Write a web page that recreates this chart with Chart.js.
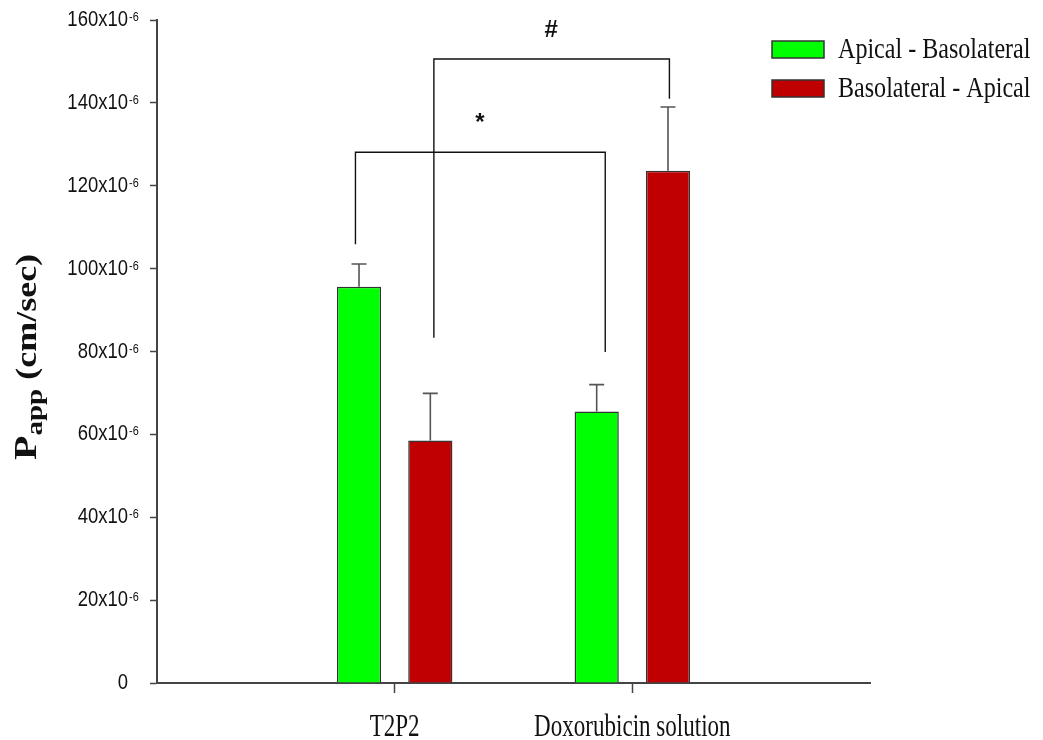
<!DOCTYPE html>
<html>
<head>
<meta charset="utf-8">
<script src="https://cdn.jsdelivr.net/npm/chart.js@4/dist/chart.umd.min.js"></script>
<style>
html, body { margin: 0; padding: 0; background: #fff; }
#wrap { width: 1043px; height: 740px; }
</style>
</head>
<body>
<div id="wrap"><canvas id="papp-bar"></canvas></div>
<script>
// values are in units of 10^-6 cm/sec; empty groups pad the axis on both sides
const groups = ['', 'T2P2', 'Doxorubicin solution', ''];
const seriesNames = ['Apical - Basolateral', 'Basolateral - Apical'];
const apicalToBaso = [null, 95.6, 65.5, null];
const basoToApical = [null, 58.5, 123.6, null];
const apicalToBasoErr = [null, 5.5, 6.5, null];
const basoToApicalErr = [null, 11.4, 15.4, null];
const yTicks = [0, 20, 40, 60, 80, 100, 120, 140, 160];

// significance brackets, in axis units (x = group index, y = value)
const sigBrackets = [
	{ mark: '*', left: 0.835, right: 1.886, top: 128.1, leftEnd: 105.9, rightEnd: 79.9, tx: 1.359, ty: 135.0 },
	{ mark: '#', left: 1.165, right: 2.156, top: 150.6, leftEnd: 83.3, rightEnd: 141.0, tx: 1.658, ty: 157.6 }
];

const GREEN = '#00ff00';
const RED = '#c00000';
const INK = '#111';

// draws text squeezed horizontally, like the original figure
function squeezedText(ctx, text, x, y, sx, align) {
	ctx.save();
	ctx.translate(x, y);
	ctx.scale(sx, 1);
	ctx.textAlign = align || 'left';
	ctx.fillText(text, 0, 0);
	ctx.restore();
}

const extrasPlugin = {
	id: 'extras',
	afterDatasetsDraw(chart) {
		const ctx = chart.ctx;
		const xs = chart.scales.x;
		const ys = chart.scales.y;
		const errs = [apicalToBasoErr, basoToApicalErr];

		// error bars (upper only)
		ctx.save();
		ctx.strokeStyle = '#555';
		ctx.lineWidth = 1.6;
		chart.data.datasets.forEach((ds, di) => {
			const meta = chart.getDatasetMeta(di);
			meta.data.forEach((bar, i) => {
				if (ds.data[i] == null) return;
				const top = ys.getPixelForValue(ds.data[i] + errs[di][i]);
				ctx.beginPath();
				ctx.moveTo(bar.x, bar.y);
				ctx.lineTo(bar.x, top);
				ctx.moveTo(bar.x - 7.5, top);
				ctx.lineTo(bar.x + 7.5, top);
				ctx.stroke();
			});
		});
		ctx.restore();

		// brackets
		ctx.save();
		ctx.strokeStyle = '#111';
		ctx.lineWidth = 1.4;
		ctx.fillStyle = INK;
		ctx.font = 'bold 24px "Liberation Sans", Arial, sans-serif';
		ctx.textAlign = 'center';
		ctx.textBaseline = 'middle';
		sigBrackets.forEach(b => {
			const x1 = xs.getPixelForValue(b.left);
			const x2 = xs.getPixelForValue(b.right);
			ctx.beginPath();
			ctx.moveTo(x1, ys.getPixelForValue(b.leftEnd));
			ctx.lineTo(x1, ys.getPixelForValue(b.top));
			ctx.lineTo(x2, ys.getPixelForValue(b.top));
			ctx.lineTo(x2, ys.getPixelForValue(b.rightEnd));
			ctx.stroke();
			ctx.fillText(b.mark, xs.getPixelForValue(b.tx), ys.getPixelForValue(b.ty));
		});
		ctx.restore();
	},
	afterDraw(chart) {
		const ctx = chart.ctx;
		const xs = chart.scales.x;
		const ys = chart.scales.y;

		// y tick labels with superscript exponent
		ctx.save();
		ctx.fillStyle = INK;
		yTicks.forEach(v => {
			const y = ys.getPixelForValue(v);
			ctx.font = '22px "Liberation Sans", Arial, sans-serif';
			ctx.textBaseline = 'middle';
			if (v === 0) {
				squeezedText(ctx, '0', 128, y, 0.84, 'right');
				return;
			}
			squeezedText(ctx, v + 'x10', 128, y, 0.84, 'right');
			ctx.font = '13px "Liberation Sans", Arial, sans-serif';
			ctx.textBaseline = 'alphabetic';
			squeezedText(ctx, '-6', 129, y + 1, 0.84, 'left');
		});
		ctx.restore();

		// x category labels
		ctx.save();
		ctx.fillStyle = INK;
		ctx.font = '32px "Liberation Serif", "Times New Roman", serif';
		ctx.textBaseline = 'alphabetic';
		groups.forEach((g, i) => {
			if (!g) return;
			squeezedText(ctx, g, xs.getPixelForValue(i), 736, 0.72, 'center');
		});
		ctx.restore();

		// legend
		ctx.save();
		ctx.font = '29px "Liberation Serif", "Times New Roman", serif';
		ctx.textBaseline = 'alphabetic';
		chart.data.datasets.forEach((ds, i) => {
			const top = 41 + i * 39;
			ctx.fillStyle = ds.backgroundColor;
			ctx.fillRect(772, top, 52, 17);
			ctx.strokeStyle = '#333';
			ctx.lineWidth = 1.5;
			ctx.strokeRect(772, top, 52, 17);
			ctx.fillStyle = INK;
			squeezedText(ctx, ds.label, 838, top + 17, 0.83, 'left');
		});
		ctx.restore();

		// y title: P with subscript app
		ctx.save();
		ctx.fillStyle = INK;
		ctx.translate(36, 460);
		ctx.rotate(-Math.PI / 2);
		ctx.scale(1, 0.8);
		ctx.textBaseline = 'alphabetic';
		ctx.font = 'bold 40px "Liberation Serif", "Times New Roman", serif';
		ctx.fillText('P', 0, 0);
		let w = ctx.measureText('P').width;
		ctx.font = 'bold 29px "Liberation Serif", "Times New Roman", serif';
		ctx.fillText('app', w, 8);
		w += ctx.measureText('app').width;
		ctx.font = 'bold 36px "Liberation Serif", "Times New Roman", serif';
		ctx.fillText(' (cm/sec)', w, 0);
		ctx.restore();
	}
};

const chartData = {
	labels: groups,
	datasets: [{
		label: seriesNames[0],
		data: apicalToBaso,
		backgroundColor: GREEN,
		borderColor: '#333',
		borderWidth: 1.5
	}, {
		label: seriesNames[1],
		data: basoToApical,
		backgroundColor: RED,
		borderColor: '#333',
		borderWidth: 1.5
	}]
};

const ctx = document.getElementById('papp-bar');
const barGraph = new Chart(ctx, {
	type: 'bar',
	data: chartData,
	options: {
		responsive: true,
		maintainAspectRatio: false,
		animation: false,
		events: [],
		layout: { padding: { top: 20, right: 173, bottom: 0, left: 0 } },
		datasets: {
			bar: { categoryPercentage: 0.6, barPercentage: 0.62 }
		},
		plugins: {
			legend: { display: false },
			tooltip: { enabled: false }
		},
		scales: {
			x: {
				offset: false,
				grid: {
					offset: false,
					drawOnChartArea: false,
					tickLength: 10,
					tickWidth: 1.5,
					tickColor: (c) => (c.index === 1 || c.index === 2) ? '#444' : 'rgba(0,0,0,0)'
				},
				border: { color: '#444', width: 2 },
				ticks: { display: false },
				afterFit: (scale) => { scale.height = 57; }
			},
			y: {
				min: 0,
				max: 160,
				ticks: { display: false, stepSize: 20 },
				grid: {
					drawOnChartArea: false,
					tickLength: 7,
					tickWidth: 1.5,
					tickColor: '#444'
				},
				border: { color: '#444', width: 2 },
				afterFit: (scale) => { scale.width = 157; }
			}
		}
	},
	plugins: [extrasPlugin]
});
</script>
</body>
</html>
